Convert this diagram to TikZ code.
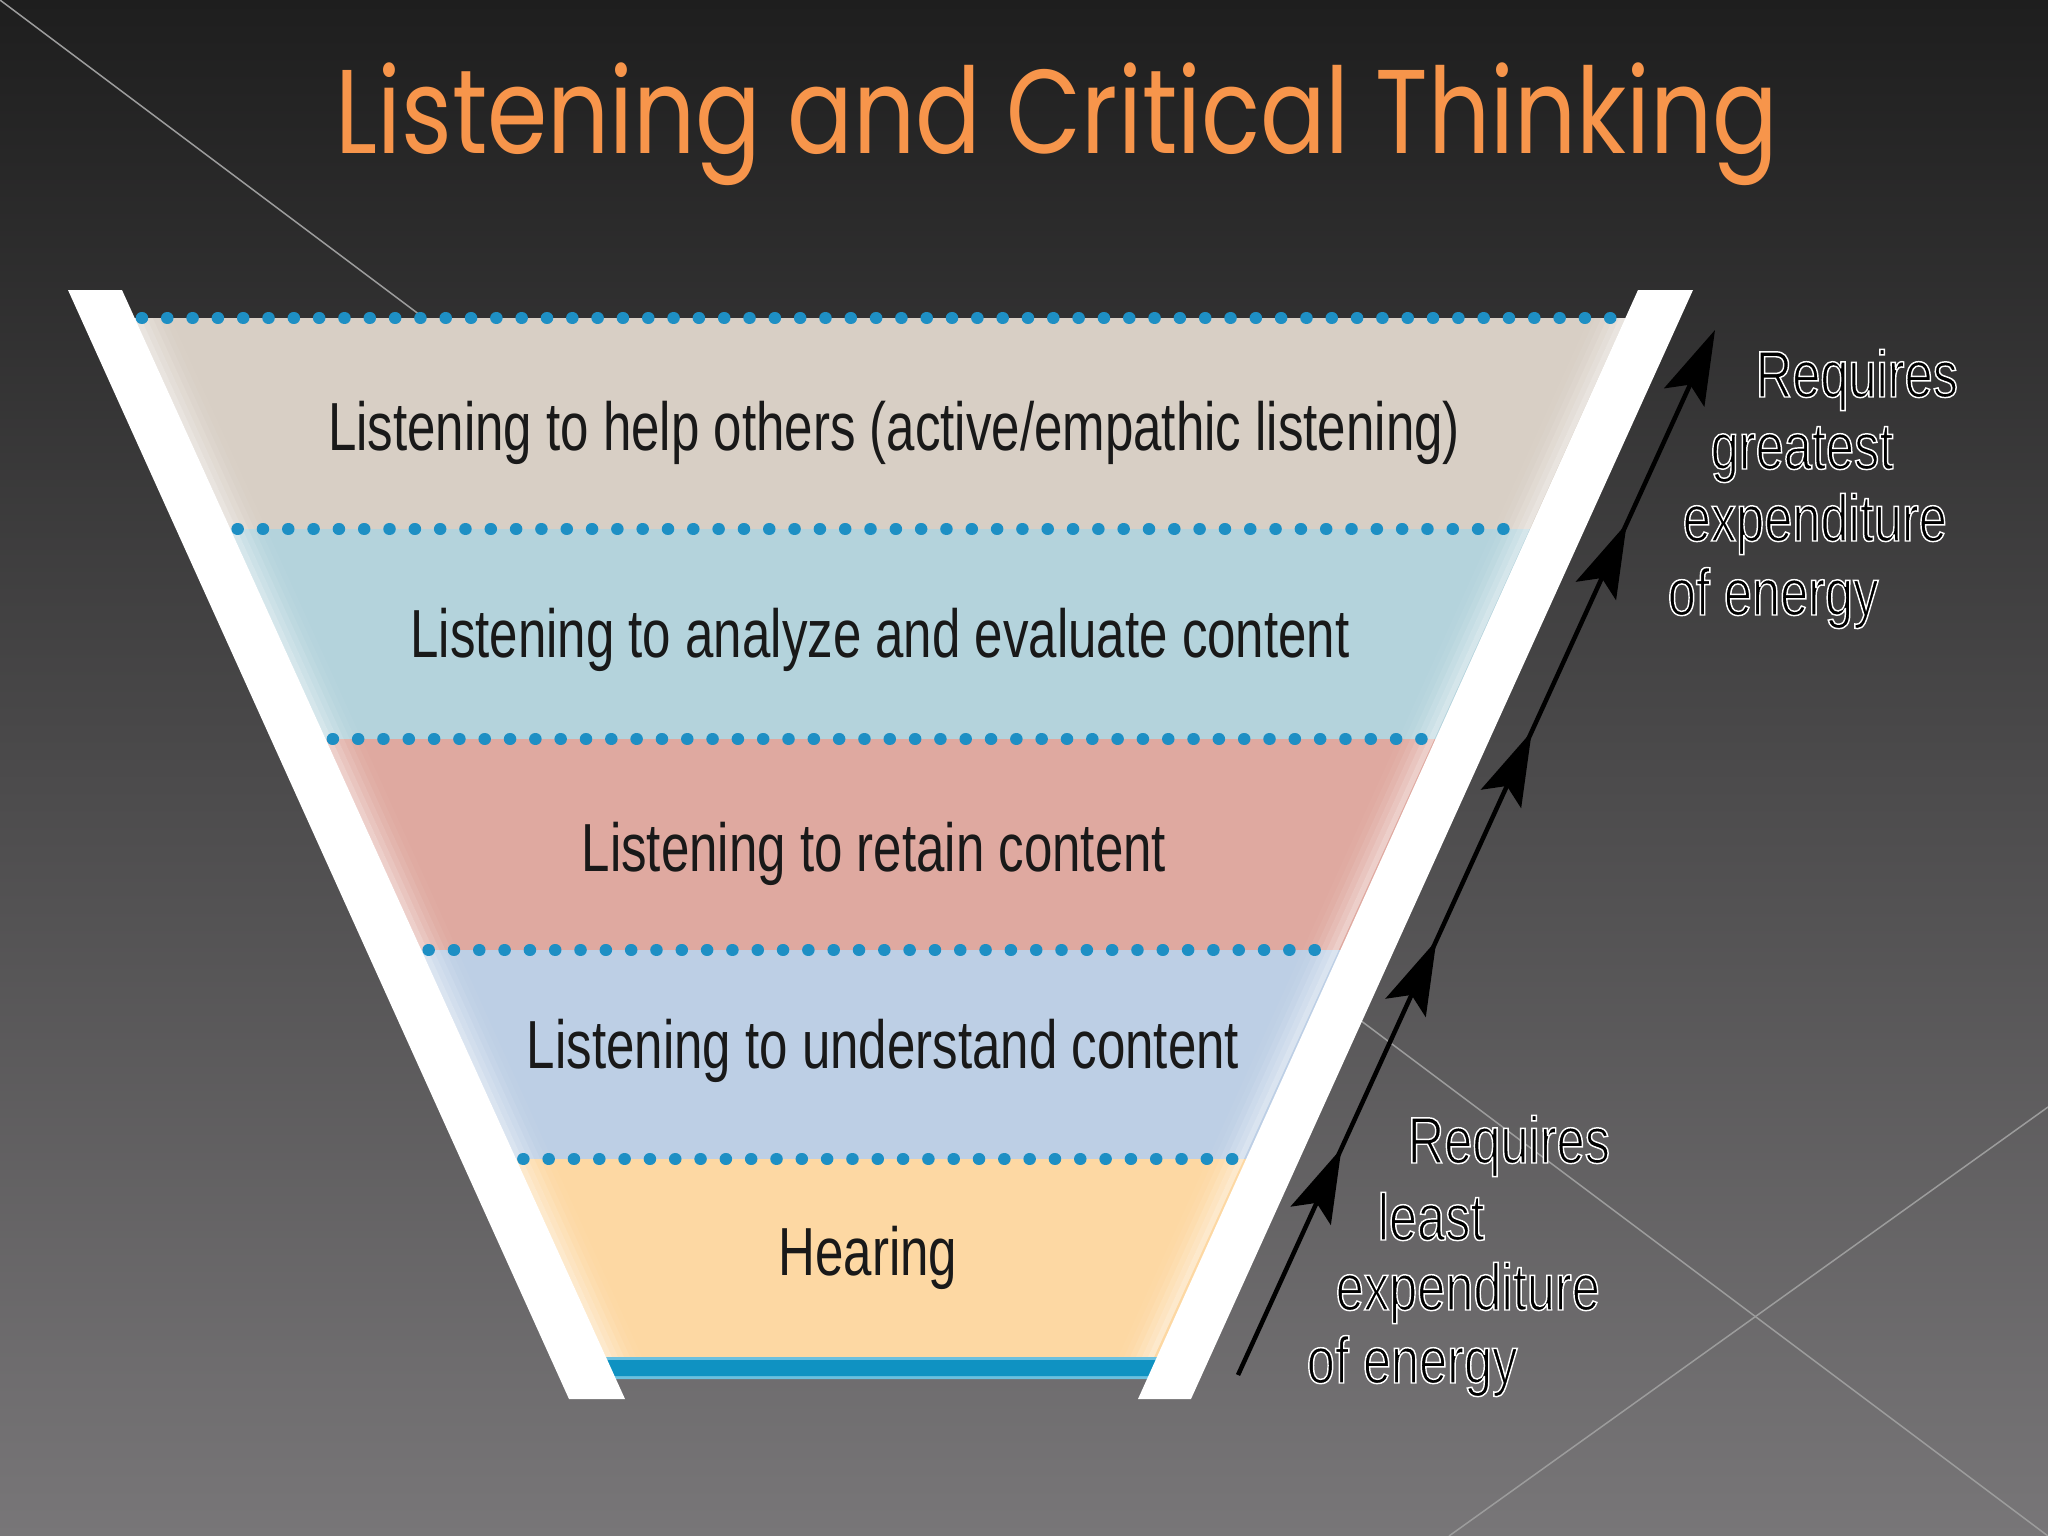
\documentclass[tikz,border=0pt]{standalone}
\usepackage{fontspec}
\setmainfont{Liberation Sans}
\newfontfamily\bandfont[FakeStretch=0.75]{Liberation Sans}
\newfontfamily\sidefont[FakeStretch=0.77,FakeBold=2.2]{Liberation Sans}
\newfontfamily\titlefont[FakeStretch=0.815]{Poppins}
\usetikzlibrary{arrows.meta,decorations.markings}
\definecolor{bgtop}{HTML}{1E1E1E}
\definecolor{bgbot}{HTML}{787678}
\definecolor{bandA}{HTML}{D8CFC5}
\definecolor{bandB}{HTML}{B4D3DC}
\definecolor{bandC}{HTML}{DFA9A0}
\definecolor{bandD}{HTML}{BDCFE5}
\definecolor{bandE}{HTML}{FDD8A3}
\definecolor{dotblue}{HTML}{1E8FC4}
\definecolor{barblue}{HTML}{0F92C2}
\definecolor{barlight}{HTML}{6BC0DF}
\definecolor{titleorange}{HTML}{F7954B}
\definecolor{diaggray}{HTML}{9C9C9C}
\newcommand\wstroke{\special{pdf:literal direct 1 1 1 RG}}
\tikzset{
  bandtxt/.style={anchor=base, inner sep=0pt, text=black!90,
    font=\bandfont\fontsize{19.35}{23}\selectfont},
  sidetxt/.style={anchor=base west, inner sep=0pt, text=black,
    font=\sidefont\fontsize{18.67}{22}\selectfont},
  titletxt/.style={anchor=base, inner sep=0pt, text=titleorange,
    font=\titlefont\fontsize{33.9}{40}\selectfont},
  dotrow/.style={draw=dotblue, line width=0.12cm, line cap=round,
    dash pattern=on 0.005cm off 0.248cm},
  wall/.style={fill=white},
  diag/.style={draw=diaggray, line width=0.015cm},
  headtip/.tip={Stealth[length=0.74cm,width=0.44cm,inset=0.14cm]},
  energy/.style={draw=black, line width=0.045cm, -headtip,
    decoration={markings,
      mark=at position 0.217 with {\arrow{headtip}},
      mark=at position 0.416 with {\arrow{headtip}},
      mark=at position 0.616 with {\arrow{headtip}},
      mark=at position 0.815 with {\arrow{headtip}}},
    postaction={decorate}},
}
\begin{document}
\begin{tikzpicture}[x=0.01cm,y=-0.01cm]
% background
\shade[top color=bgtop, bottom color=bgbot] (0,0) rectangle (2048,1536);
\useasboundingbox (0,0) rectangle (2048,1536);
% faint diagonal lines
\draw[diag] (0,0) -- (2048,1536);
\draw[diag] (1449,1536) -- (2048,1107);
% title
\node[titletxt] (title) at (1057,153) {Listening and Critical Thinking};
% bands
\fill[bandA] (129.7,318) -- (1630.3,318) -- (1534.6,529) -- (225.4,529) -- cycle;
\fill[bandB] (225.4,529) -- (1534.6,529) -- (1439.4,739) -- (320.6,739) -- cycle;
\fill[bandC] (320.6,739) -- (1439.4,739) -- (1343.6,950) -- (416.4,950) -- cycle;
\fill[bandD] (416.4,950) -- (1343.6,950) -- (1248.9,1159) -- (511.1,1159) -- cycle;
\fill[bandE] (511.1,1159) -- (1248.9,1159) -- (1157.7,1360) -- (602.3,1360) -- cycle;
% soft light fade along the inner walls
\foreach \k/\o in {0/0.45,1/0.33,2/0.23,3/0.14,4/0.07,5/0.03}{
  \fill[white, opacity=\o]
    ({134.7+6*\k},318) -- ({140.7+6*\k},318) -- ({613.3+6*\k},1360) -- ({607.3+6*\k},1360) -- cycle;
  \fill[white, opacity=\o]
    ({1625.3-6*\k},318) -- ({1619.3-6*\k},318) -- ({1146.7-6*\k},1360) -- ({1152.7-6*\k},1360) -- cycle;
}
% bottom bar
\fill[barlight] (601,1357) -- (1159,1357) -- (1150,1379) -- (610,1379) -- cycle;
\fill[barblue] (603,1360) -- (1157,1360) -- (1151,1376) -- (609,1376) -- cycle;
% dotted separators
\draw[dotrow] (141.7,318) -- (1618.3,318);
\draw[dotrow] (237.4,529) -- (1522.6,529);
\draw[dotrow] (332.6,739) -- (1427.4,739);
\draw[dotrow] (428.4,950) -- (1331.6,950);
\draw[dotrow] (523.1,1159) -- (1236.9,1159);
% white walls of the funnel
\fill[wall] (68,290) -- (122,290) -- (625,1399) -- (569,1399) -- cycle;
\fill[wall] (1638,290) -- (1693,290) -- (1191,1399) -- (1138,1399) -- cycle;
% band labels
\node[bandtxt] (t1) at (894,450) {Listening to help others (active/empathic listening)};
\node[bandtxt] (t2) at (880,657) {Listening to analyze and evaluate content};
\node[bandtxt] (t3) at (874,871) {Listening to retain content};
\node[bandtxt] (t4) at (883,1068) {Listening to understand content};
\node[bandtxt] (t5) at (868,1275) {Hearing};
% energy arrow
\coordinate (a0) at (1238,1375);
\coordinate (a1) at (1715,330);
\draw[energy] (a0) -- (a1);
% side labels
\node[sidetxt] (g1) at (1755,397) {\wstroke Requires};
\node[sidetxt] (g2) at (1710,469) {\wstroke greatest};
\node[sidetxt] (g3) at (1682,541) {\wstroke expenditure};
\node[sidetxt] (g4) at (1667,615) {\wstroke of energy};
\node[sidetxt] (l1) at (1407,1163) {\wstroke Requires};
\node[sidetxt] (l2) at (1377,1240) {\wstroke least};
\node[sidetxt] (l3) at (1335,1310) {\wstroke expenditure};
\node[sidetxt] (l4) at (1306,1383) {\wstroke of energy};
\end{tikzpicture}
\end{document}
